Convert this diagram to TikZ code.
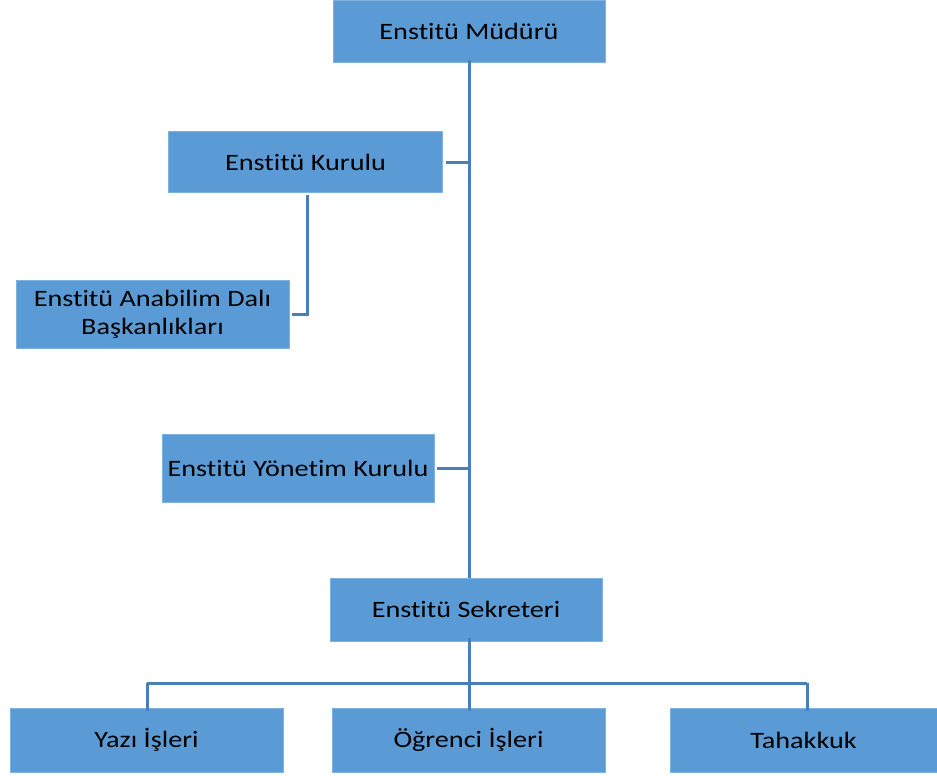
\documentclass[tikz,border=0pt]{standalone}
\usepackage{fontspec}
\setmainfont{Carlito}[FakeStretch=1.2, Ligatures=NoCommon]
\definecolor{boxfill}{HTML}{5B9BD5}
\definecolor{boxedge}{HTML}{7FB2E0}
\definecolor{linecol}{HTML}{4A7EBB}
\begin{document}
\begin{tikzpicture}[x=1pt,y=-1pt,
  orgbox/.style={fill=boxfill,draw=boxedge,line width=0.8pt,inner sep=0pt,
    minimum width=#1,align=center,text=black,
    font=\fontsize{23.5}{28}\selectfont},
  link/.style={draw=linecol,line width=3pt}]
\useasboundingbox[fill=white] (0,0) rectangle (937,776);
\node[orgbox=272, minimum height=62] (mud) at (469,31) {Enstitü Müdürü};
\node[orgbox=274, minimum height=61] (kur) at (305.5,162) {Enstitü Kurulu};
\node[orgbox=273, minimum height=68] (ana) at (152.5,314) {Enstitü Anabilim Dalı\\Başkanlıkları};
\node[orgbox=272, minimum height=68] (yon) at (298,468) {Enstitü Yönetim Kurulu};
\node[orgbox=272, minimum height=63] (sek) at (466,609.5) {Enstitü Sekreteri};
\node[orgbox=273, minimum height=64] (yaz) at (146.5,740) {Yazı İşleri};
\node[orgbox=273, minimum height=64] (ogr) at (468.5,740) {Öğrenci İşleri};
\node[orgbox=267, minimum height=64] (tah) at (803.5,740) {Tahakkuk};
\coordinate (spine) at (469,0);
\coordinate (barL) at (147,683);
\coordinate (barM) at (469,683);
\coordinate (barR) at (807,683);
\path[link] ([yshift=2]mud.south -| spine) -- (sek.north -| spine);
\path[link] ([xshift=3]kur.east) -- (kur.east -| spine);
\path[link] (307,195) coordinate (kd) |- ([xshift=3]ana.east);
\path[link] ([xshift=3]yon.east) -- (yon.east -| spine);
\path[link] ([yshift=3]sek.south -| spine) -- (barM);
\path[link] (barL) -- (barR);
\path[link] (barL) -- ([yshift=-3]yaz.north -| barL);
\path[link] (barM) -- ([yshift=-3]ogr.north -| barM);
\path[link] (barR) -- ([yshift=-3]tah.north -| barR);
\end{tikzpicture}
\end{document}
